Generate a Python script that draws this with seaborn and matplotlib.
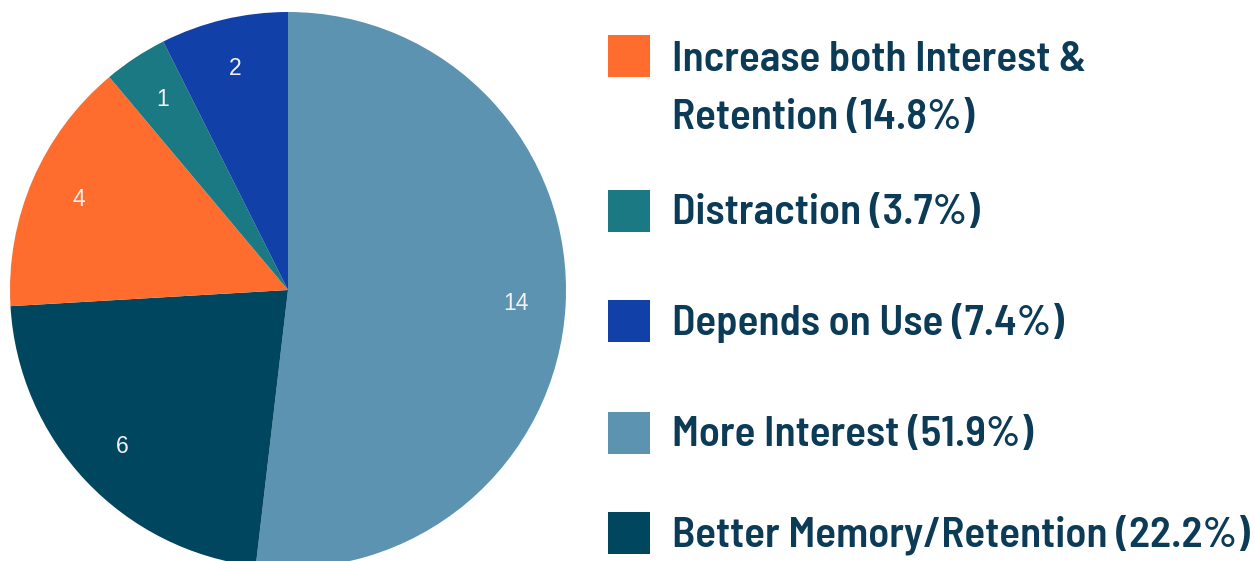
import matplotlib
matplotlib.use("Agg")
import matplotlib.pyplot as plt
from matplotlib.patches import Rectangle
import seaborn as sns

# data, clockwise from 12 o'clock
labels = ["More Interest", "Better Memory/Retention", "Increase both Interest &\nRetention",
          "Distraction", "Depends on Use"]
counts = [14, 6, 4, 1, 2]
colors = ["#5B93B0", "#00465F", "#FF6D2E", "#1A7983", "#1141A8"]

# legend order as shown on the right
legend_order = [2, 3, 4, 0, 1]

sns.set_theme(style="white")
plt.rcParams['font.family'] = ['Liberation Sans', 'DejaVu Sans']
legend_font = ['Barlow Semi Condensed', 'Barlow Condensed', 'IBM Plex Sans Condensed', 'DejaVu Sans']

fig = plt.figure(figsize=(12.55, 5.61), dpi=100)
W, H = 1255, 561
cx, cy, r = 288, 290, 278
ax = fig.add_axes([(cx - r) / W, (H - cy - r) / H, 2 * r / W, 2 * r / H])

total = sum(counts)
sns.set_palette(colors)
wedges, texts, autotexts = ax.pie(
    counts, colors=colors, startangle=90, counterclock=False, radius=1,
    autopct=lambda p: f"{round(p * total / 100)}", pctdistance=0.82,
    textprops=dict(color="#F2F2F2", fontsize=16.5, family=['Liberation Sans', 'DejaVu Sans']),
    wedgeprops=dict(linewidth=0))
ax.set_xlim(-1, 1)
ax.set_ylim(-1, 1)
ax.set_aspect("equal")
ax.axis("off")

# manual legend
rows_y = [56, 211, 321, 433, 533]
for i, y in zip(legend_order, rows_y):
    fig.patches.append(Rectangle((608 / W, (H - y - 21) / H), 42 / W, 42 / H,
                                 transform=fig.transFigure, facecolor=colors[i], edgecolor="none"))
    pct = counts[i] / total * 100
    ty = y + 33 if "\n" in labels[i] else y + 2
    fig.text(672 / W, (H - ty) / H, f"{labels[i]} ({pct:.1f}%)", ha="left", va="center",
             fontsize=31, fontweight="semibold", color="#0B3B57",
             family=legend_font, linespacing=1.68)

fig.savefig("out.png", dpi=100)
